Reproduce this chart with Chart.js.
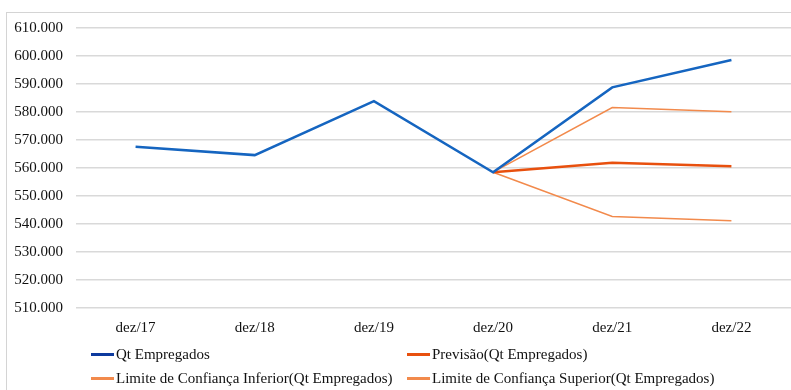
<!DOCTYPE html>
<html>
<head>
<meta charset="utf-8">
<script src="https://cdn.jsdelivr.net/npm/chart.js@4/dist/chart.umd.min.js"></script>
<style>
  html, body { margin: 0; padding: 0; background: #fff; }
  #wrap { position: relative; width: 791px; height: 390px; overflow: hidden; }
  #frame { position: absolute; left: 6px; top: 12px; width: 900px; height: 500px; border-left: 1.5px solid #d4d4d4; border-top: 1.5px solid #d4d4d4; }
  canvas { position: absolute; left: 0; top: 0; }
  .lg { position: absolute; font-family: "Liberation Serif", "Times New Roman", serif; font-size: 15px; color: #111; white-space: nowrap; line-height: 18px; }
  .lg i { display: inline-block; width: 23px; height: 2.5px; vertical-align: middle; margin-right: 2px; position: relative; top: -1px; }
</style>
</head>
<body>
<div id="wrap">
  <div id="frame"></div>
  <canvas id="c" width="791" height="390"></canvas>
  <div id="legend"></div>
</div>
<script>
const categories = ["dez/17", "dez/18", "dez/19", "dez/20", "dez/21", "dez/22"];
const qtEmpregados = [567600, 564600, 583900, 558500, 588800, 598600];
const previsao = [null, null, null, 558500, 561900, 560600];
const limiteInferior = [null, null, null, 558500, 542700, 541200];
const limiteSuperior = [null, null, null, 558500, 581600, 580100];
const seriesNames = ["Qt Empregados", "Previsão(Qt Empregados)", "Limite de Confiança Inferior(Qt Empregados)", "Limite de Confiança Superior(Qt Empregados)"];
const yTicks = { min: 510000, max: 610000, step: 10000 };

const colors = ["#1565c0", "#e8500e", "#f28a4c", "#f28a4c"];
const legendColors = ["#0d3a9e", "#e8500e", "#f28a4c", "#f28a4c"];
const widths = [2.5, 2.5, 1.5, 1.5];

function fmt(v) {
  const s = Math.round(v).toString();
  return s.replace(/\B(?=(\d{3})+(?!\d))/g, ".");
}

const datasets = [qtEmpregados, previsao, limiteInferior, limiteSuperior].map((d, i) => ({
  label: seriesNames[i],
  data: d,
  borderColor: colors[i],
  backgroundColor: colors[i],
  borderWidth: widths[i],
  pointRadius: 0,
  tension: 0,
  spanGaps: false,
  order: i
}));

new Chart(document.getElementById("c"), {
  type: "line",
  data: { labels: categories, datasets },
  options: {
    responsive: false,
    animation: false,
    layout: { padding: { top: 28, right: 0, bottom: 0, left: 0 } },
    plugins: { legend: { display: false }, tooltip: { enabled: false } },
    scales: {
      x: {
        offset: true,
        grid: { display: false, drawTicks: false },
        border: { display: false },
        ticks: { padding: 11, color: "#111", font: { family: "Liberation Serif", size: 15 }, maxRotation: 0 },
        afterFit: (s) => { s.height = 82; }
      },
      y: {
        min: yTicks.min,
        max: yTicks.max,
        grid: { color: "#d9d9d9", lineWidth: 1.5, drawTicks: false },
        border: { display: false },
        ticks: { stepSize: yTicks.step, padding: 13, color: "#111", font: { family: "Liberation Serif", size: 15 }, callback: (v) => fmt(v) },
        afterFit: (s) => { s.width = 76; }
      }
    }
  }
});

const lg = document.getElementById("legend");
const pos = [[91, 345], [407, 345], [91, 369], [407, 369]];
seriesNames.forEach((n, i) => {
  const d = document.createElement("div");
  d.className = "lg";
  d.style.left = pos[i][0] + "px";
  d.style.top = pos[i][1] + "px";
  const line = document.createElement("i");
  line.style.background = legendColors[i];
  d.appendChild(line);
  d.appendChild(document.createTextNode(n));
  lg.appendChild(d);
});
</script>
</body>
</html>
